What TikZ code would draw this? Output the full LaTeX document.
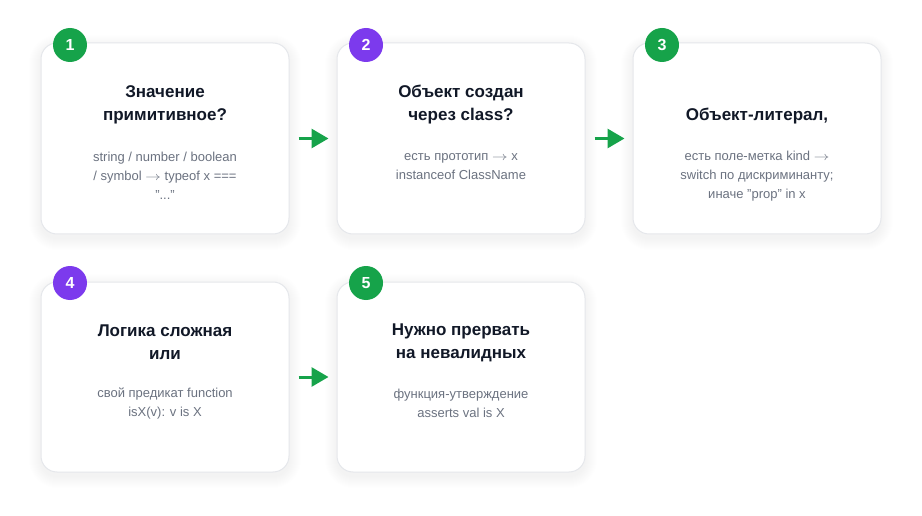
\documentclass[tikz,border=0pt]{standalone}
\usepackage{fontspec}
\setmainfont{Liberation Sans}
\usetikzlibrary{arrows.meta}
\definecolor{bggreen}{HTML}{16A34A}
\definecolor{bgpurple}{HTML}{7C3AED}
\definecolor{titlec}{HTML}{111827}
\definecolor{subc}{HTML}{6B7280}
\definecolor{cardborder}{HTML}{E5E7EB}
\newcommand{\rarr}{\scalebox{1.3}[1]{$\rightarrow$}}
\tikzset{
  card/.style={draw=cardborder, line width=1pt, fill=white, rounded corners=16pt,
    minimum width=248pt, minimum height=#1, inner sep=0pt},
  badge/.style={circle, fill=#1, minimum size=34pt, inner sep=0pt, text=white,
    font=\fontsize{16}{16}\selectfont\bfseries},
  ttl/.style={align=center, text=titlec, font=\fontsize{17}{23}\selectfont\bfseries, inner sep=0pt},
  sub/.style={align=center, text=subc, font=\fontsize{13}{19}\selectfont, inner sep=0pt},
  flow/.style={draw=bggreen, line width=3pt, -{Triangle[length=17pt,width=19pt]}},
}
\newcommand{\cardshadow}[4]{%
  \foreach \i in {1,...,12}{%
    \fill[black, opacity=0.004, rounded corners=16pt+\i pt]
      (#1-\i, #2-\i+4) rectangle (#3+\i, #4+\i+4);
  }}
\begin{document}
\begin{tikzpicture}[x=1pt,y=-1pt]
\useasboundingbox (0,0) rectangle (922,516);
\fill[white] (0,0) rectangle (922,516);
% shadows
\cardshadow{41}{43}{289}{234}
\cardshadow{337}{43}{585}{234}
\cardshadow{633}{43}{881}{234}
\cardshadow{41}{282}{289}{472}
\cardshadow{337}{282}{585}{472}
% cards
\node[card=191pt] (c1) at (165,138.5) {};
\node[card=191pt] (c2) at (461,138.5) {};
\node[card=191pt] (c3) at (757,138.5) {};
\node[card=190pt] (c4) at (165,377) {};
\node[card=190pt] (c5) at (461,377) {};
% badges
\node[badge=bggreen] (b1) at (70,45) {1};
\node[badge=bgpurple] (b2) at (366,45) {2};
\node[badge=bggreen] (b3) at (662,45) {3};
\node[badge=bgpurple] (b4) at (70,283) {4};
\node[badge=bggreen] (b5) at (366,283) {5};
% titles
\node[ttl] (t1) at (165,104.5) {Значение\\примитивное?};
\node[ttl] (t2) at (461,104.5) {Объект создан\\через class?};
\node[ttl] (t3) at (757,116) {Объект-литерал,};
\node[ttl] (t4) at (165,342.5) {Логика сложная\\или};
\node[ttl] (t5) at (461,342.5) {Нужно прервать\\на невалидных};
% subtexts
\node[sub] (s1) at (165,176) {string / number / boolean\\/ symbol \rarr{} typeof x ===\\"..."};
\node[sub] (s2) at (461,166.5) {есть прототип \rarr{} x\\instanceof ClassName};
\node[sub] (s3) at (757,176) {есть поле-метка kind \rarr\\switch по дискриминанту;\\иначе "prop" in x};
\node[sub] (s4) at (165,403.5) {свой предикат function\\isX(v): v is X};
\node[sub] (s5) at (461,403.5) {функция-утверждение\\asserts val is X};
% arrows
\draw[flow, shorten <=9pt, shorten >=8pt] (c1.east) -- (c2.west);
\draw[flow, shorten <=9pt, shorten >=8pt] (c2.east) -- (c3.west);
\draw[flow, shorten <=9pt, shorten >=8pt] (c4.east) -- (c5.west);
\end{tikzpicture}
\end{document}
